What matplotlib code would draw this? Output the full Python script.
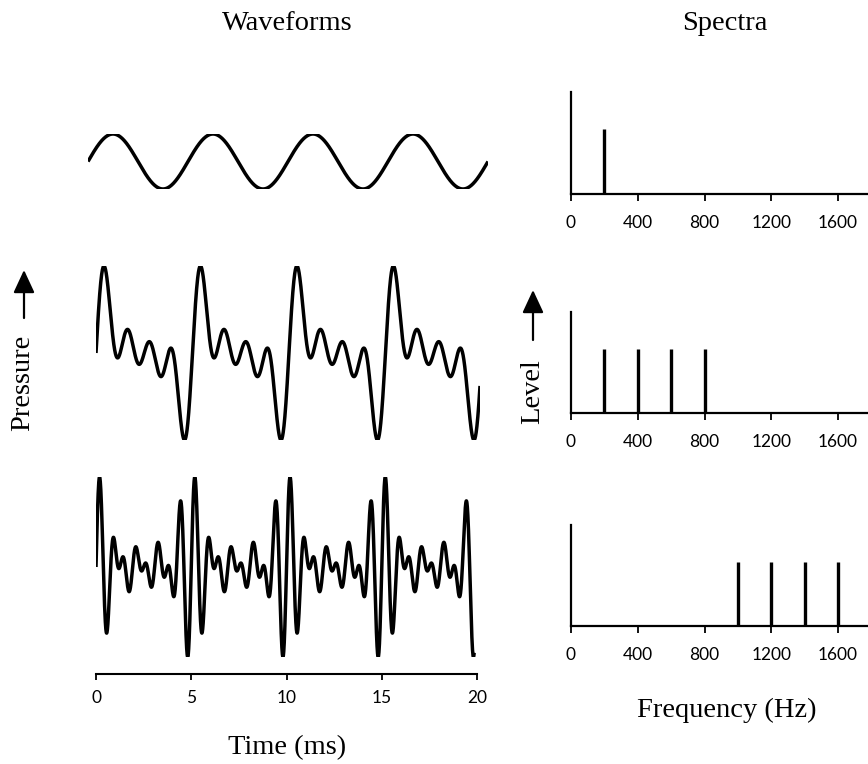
import numpy as np
import matplotlib
matplotlib.use("Agg")
import matplotlib.pyplot as plt
from matplotlib.patches import FancyArrowPatch

# fundamental (Hz) and the components of each tone
f0 = 200
spec_freqs = [[200], [200, 400, 600, 800], [1000, 1200, 1400, 1600]]
spec_levels = [[1.0], [1.0, 1.0, 1.0, 1.0], [1.0, 1.0, 1.0, 1.0]]
freq_ticks = [0, 400, 800, 1200, 1600]
time_ticks = [0, 5, 10, 15, 20]
t_end = [20.0, 19.9, 19.85]

W, H = 868, 764
fig = plt.figure(figsize=(W / 100, H / 100), dpi=100)
serif = "Liberation Serif"
sans = "Lato"


def box(x0, x1, ytop, ybot):
    return [x0 / W, 1 - ybot / H, (x1 - x0) / W, (ybot - ytop) / H]


# waveform panels: pixel boxes (left, right, top, bottom) of the trace
wave_boxes = [(88, 488, 134, 189), (96, 480, 266, 440), (96, 477, 477, 657)]

for i in range(3):
    t = np.linspace(0, t_end[i], 3000)
    p = np.zeros_like(t)
    for f, a in zip(spec_freqs[i], spec_levels[i]):
        p += a * np.sin(2 * np.pi * f * t / 1000.0)
    x0, x1, yt, yb = wave_boxes[i]
    ax = fig.add_axes(box(x0, x1, yt, yb))
    ax.plot(t, p, color="black", lw=2.5, solid_capstyle="butt")
    ax.set_xlim(0, t_end[i] if i < 2 else 20)
    ax.set_ylim(p.min(), p.max())
    ax.patch.set_visible(False)
    for s in ax.spines.values():
        s.set_visible(False)
    ax.set_yticks([])
    if i < 2:
        ax.set_xticks([])
    else:
        ax.spines["bottom"].set_visible(True)
        ax.spines["bottom"].set_position(("outward", 12))
        ax.spines["bottom"].set_linewidth(1.5)
        ax.set_xticks(time_ticks)
        ax.set_xticklabels([str(v) for v in time_ticks], family=sans, fontsize=12.5)
        ax.tick_params(axis="x", direction="out", length=4, width=1.3, pad=8)

# spectra panels: pixel (top of level axis, baseline)
spec_boxes = [(92, 194), (312, 413), (525, 626)]
x_zero, x_1600 = 571, 838
xmax = 1600 * (W - x_zero) / (x_1600 - x_zero)

for i in range(3):
    yt, yb = spec_boxes[i]
    ax = fig.add_axes(box(x_zero, W, yt, yb))
    ax.vlines(spec_freqs[i], 0, spec_levels[i], color="black", lw=2.4)
    ax.set_xlim(0, xmax)
    ax.set_ylim(0, 1.58)
    ax.patch.set_visible(False)
    ax.spines["top"].set_visible(False)
    ax.spines["right"].set_visible(False)
    ax.spines["left"].set_linewidth(1.6)
    ax.spines["bottom"].set_linewidth(1.6)
    ax.set_yticks([])
    ax.set_xticks(freq_ticks)
    ax.set_xticklabels([str(v) for v in freq_ticks], family=sans, fontsize=12.5)
    ax.tick_params(axis="x", direction="out", length=5, width=1.3, pad=10)

# titles and axis labels
fs = 20.5
fig.text(287 / W, 1 - 24 / H, "Waveforms", family=serif, fontsize=fs, ha="center", va="center")
fig.text(725 / W, 1 - 24 / H, "Spectra", family=serif, fontsize=fs, ha="center", va="center")
fig.text(287 / W, 1 - 748 / H, "Time (ms)", family=serif, fontsize=fs, ha="center", va="center")
fig.text(727 / W, 1 - 710 / H, "Frequency (Hz)", family=serif, fontsize=fs, ha="center", va="center")
fig.text(23 / W, 1 - 383 / H, "Pressure", family=serif, fontsize=fs, rotation=90, ha="center", va="center")
fig.text(533 / W, 1 - 392 / H, "Level", family=serif, fontsize=fs, rotation=90, ha="center", va="center")

arrow = dict(arrowstyle="-|>,head_length=14,head_width=6.5", color="black", lw=1.6,
             mutation_scale=1, shrinkA=0, shrinkB=0, transform=fig.transFigure)
fig.add_artist(FancyArrowPatch((24 / W, 1 - 318 / H), (24 / W, 1 - 270 / H), **arrow))
fig.add_artist(FancyArrowPatch((533 / W, 1 - 340 / H), (533 / W, 1 - 290 / H), **arrow))

fig.savefig("out.png", dpi=100)
